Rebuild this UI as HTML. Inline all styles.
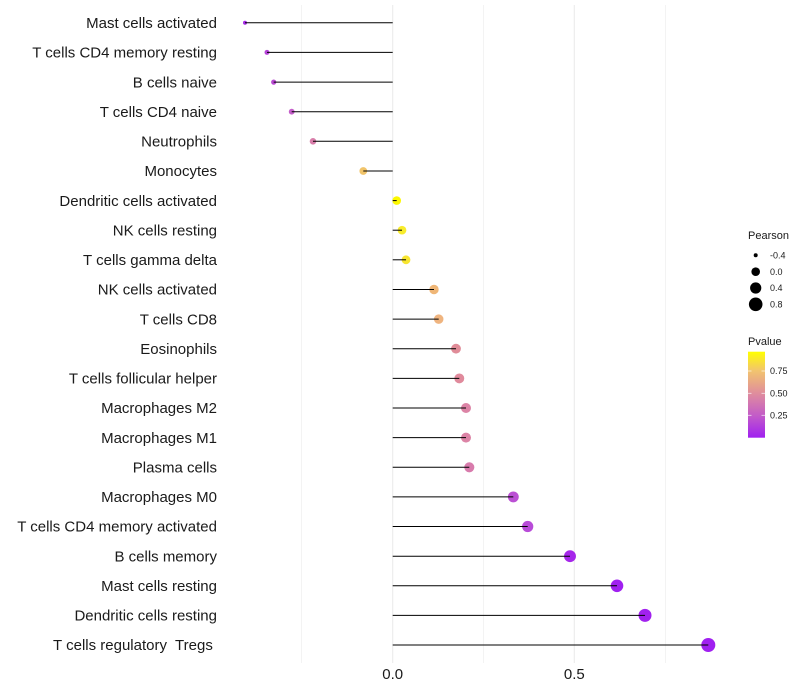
<!DOCTYPE html>
<html><head><meta charset="utf-8">
<style>
html,body{margin:0;padding:0;background:#fff;}
svg{display:block;font-family:"Liberation Sans",sans-serif;}
</style></head>
<body>
<svg width="800" height="700" viewBox="0 0 800 700" xmlns="http://www.w3.org/2000/svg">
<rect width="800" height="700" fill="#fff"/>
<!-- grid -->
<g stroke="#ebebeb">
<line x1="301.3" y1="5" x2="301.3" y2="663" stroke-width="0.6"/>
<line x1="483.5" y1="5" x2="483.5" y2="663" stroke-width="0.6"/>
<line x1="665.7" y1="5" x2="665.7" y2="663" stroke-width="0.6"/>
<line x1="392.7" y1="5" x2="392.7" y2="663" stroke-width="1.1"/>
<line x1="574.3" y1="5" x2="574.3" y2="663" stroke-width="1.1"/>
</g>
<!-- points -->
<g>
<circle cx="245" cy="22.8" r="2" fill="#A52AE6"/>
<circle cx="267" cy="52.4" r="2.5" fill="#B644D8"/>
<circle cx="273.7" cy="82.1" r="2.6" fill="#B94AD2"/>
<circle cx="291.7" cy="111.7" r="2.9" fill="#C45ECA"/>
<circle cx="313" cy="141.3" r="3.3" fill="#D87EAA"/>
<circle cx="363.3" cy="171" r="3.9" fill="#F1C46A"/>
<circle cx="396.7" cy="200.6" r="4.3" fill="#FCF800"/>
<circle cx="402" cy="230.2" r="4.35" fill="#F8EC2C"/>
<circle cx="406" cy="259.8" r="4.4" fill="#F7E530"/>
<circle cx="434" cy="289.5" r="4.7" fill="#EFB677"/>
<circle cx="438.7" cy="319.1" r="4.75" fill="#EFB47F"/>
<circle cx="456" cy="348.7" r="4.9" fill="#E08C98"/>
<circle cx="459.3" cy="378.4" r="4.95" fill="#E08A9C"/>
<circle cx="466" cy="408" r="5" fill="#DC84A6"/>
<circle cx="466" cy="437.6" r="5" fill="#DC84A6"/>
<circle cx="469.3" cy="467.3" r="5.05" fill="#D87BAC"/>
<circle cx="513.3" cy="496.9" r="5.45" fill="#BB50D4"/>
<circle cx="527.7" cy="526.5" r="5.6" fill="#B84BD8"/>
<circle cx="570" cy="556.2" r="5.95" fill="#A626EA"/>
<circle cx="617" cy="585.8" r="6.3" fill="#A020F0"/>
<circle cx="645" cy="615.4" r="6.5" fill="#A121EE"/>
<circle cx="708.3" cy="645" r="7" fill="#A020F0"/>
</g>
<!-- segments -->
<g stroke="#000" stroke-width="1">
<line x1="392.7" y1="22.8" x2="245" y2="22.8"/>
<line x1="392.7" y1="52.4" x2="267" y2="52.4"/>
<line x1="392.7" y1="82.1" x2="273.7" y2="82.1"/>
<line x1="392.7" y1="111.7" x2="291.7" y2="111.7"/>
<line x1="392.7" y1="141.3" x2="313" y2="141.3"/>
<line x1="392.7" y1="171" x2="363.3" y2="171"/>
<line x1="392.7" y1="200.6" x2="396.7" y2="200.6"/>
<line x1="392.7" y1="230.2" x2="402" y2="230.2"/>
<line x1="392.7" y1="259.8" x2="406" y2="259.8"/>
<line x1="392.7" y1="289.5" x2="434" y2="289.5"/>
<line x1="392.7" y1="319.1" x2="438.7" y2="319.1"/>
<line x1="392.7" y1="348.7" x2="456" y2="348.7"/>
<line x1="392.7" y1="378.4" x2="459.3" y2="378.4"/>
<line x1="392.7" y1="408" x2="466" y2="408"/>
<line x1="392.7" y1="437.6" x2="466" y2="437.6"/>
<line x1="392.7" y1="467.3" x2="469.3" y2="467.3"/>
<line x1="392.7" y1="496.9" x2="513.3" y2="496.9"/>
<line x1="392.7" y1="526.5" x2="527.7" y2="526.5"/>
<line x1="392.7" y1="556.2" x2="570" y2="556.2"/>
<line x1="392.7" y1="585.8" x2="617" y2="585.8"/>
<line x1="392.7" y1="615.4" x2="645" y2="615.4"/>
<line x1="392.7" y1="645" x2="708.3" y2="645"/>
</g>
<!-- y labels -->
<g font-size="15" fill="#1a1a1a" text-anchor="end">
<text x="217" y="28">Mast cells activated</text>
<text x="217" y="57.6">T cells CD4 memory resting</text>
<text x="217" y="87.3">B cells naive</text>
<text x="217" y="116.9">T cells CD4 naive</text>
<text x="217" y="146.5">Neutrophils</text>
<text x="217" y="176.2">Monocytes</text>
<text x="217" y="205.8">Dendritic cells activated</text>
<text x="217" y="235.4">NK cells resting</text>
<text x="217" y="265">T cells gamma delta</text>
<text x="217" y="294.7">NK cells activated</text>
<text x="217" y="324.3">T cells CD8</text>
<text x="217" y="353.9">Eosinophils</text>
<text x="217" y="383.6">T cells follicular helper</text>
<text x="217" y="413.2">Macrophages M2</text>
<text x="217" y="442.8">Macrophages M1</text>
<text x="217" y="472.5">Plasma cells</text>
<text x="217" y="502.1">Macrophages M0</text>
<text x="217" y="531.7">T cells CD4 memory activated</text>
<text x="217" y="561.4">B cells memory</text>
<text x="217" y="591">Mast cells resting</text>
<text x="217" y="620.6">Dendritic cells resting</text>
<text x="217" y="650.2" xml:space="preserve" style="white-space:pre">T cells regulatory  Tregs </text>
</g>
<!-- x ticks -->
<g font-size="15" fill="#1a1a1a" text-anchor="middle">
<text x="392.7" y="679">0.0</text>
<text x="574.3" y="679">0.5</text>
</g>
<!-- legend: Pearson -->
<text x="748" y="239" font-size="11" fill="#1a1a1a">Pearson</text>
<g fill="#000">
<circle cx="755.7" cy="255.3" r="2"/>
<circle cx="755.7" cy="271.7" r="4.3"/>
<circle cx="755.7" cy="288" r="5.6"/>
<circle cx="755.7" cy="304.3" r="6.8"/>
</g>
<g font-size="9" fill="#1a1a1a">
<text x="770" y="258.5">-0.4</text>
<text x="770" y="274.8">0.0</text>
<text x="770" y="291.2">0.4</text>
<text x="770" y="307.5">0.8</text>
</g>
<!-- legend: Pvalue -->
<text x="748" y="345" font-size="11" fill="#1a1a1a">Pvalue</text>
<defs>
<linearGradient id="pg" x1="0" y1="0" x2="0" y2="1">
<stop offset="0" stop-color="#FFFF00"/>
<stop offset="0.22" stop-color="#F2C46E"/>
<stop offset="0.48" stop-color="#E08E9C"/>
<stop offset="0.74" stop-color="#C35CC8"/>
<stop offset="1" stop-color="#A020F0"/>
</linearGradient>
</defs>
<rect x="748" y="351.7" width="17" height="86" fill="url(#pg)"/>
<g stroke="#fff" stroke-width="0.8" opacity="0.8">
<line x1="748" y1="371" x2="751.5" y2="371"/><line x1="761.5" y1="371" x2="765" y2="371"/>
<line x1="748" y1="393.3" x2="751.5" y2="393.3"/><line x1="761.5" y1="393.3" x2="765" y2="393.3"/>
<line x1="748" y1="415.3" x2="751.5" y2="415.3"/><line x1="761.5" y1="415.3" x2="765" y2="415.3"/>
</g>
<g font-size="9" fill="#1a1a1a">
<text x="770" y="374.2">0.75</text>
<text x="770" y="396.5">0.50</text>
<text x="770" y="418.5">0.25</text>
</g>
</svg>
</body></html>
